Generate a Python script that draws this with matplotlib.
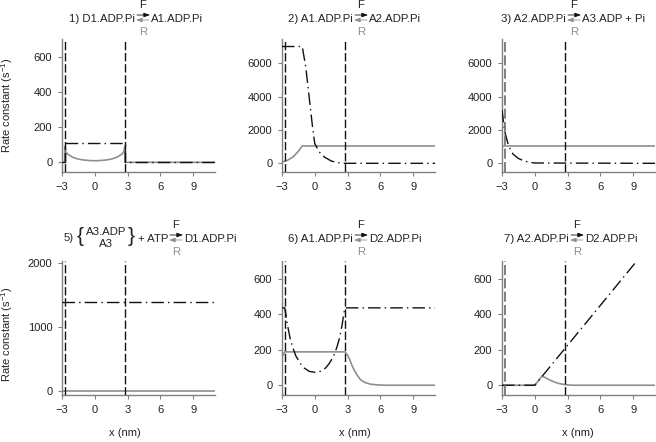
import matplotlib.pyplot as plt
from matplotlib.patches import FancyArrowPatch

plt.rcParams['font.family'] = ['Liberation Sans', 'DejaVu Sans']
plt.rcParams['font.size'] = 8
plt.rcParams['mathtext.default'] = 'regular'

W, H = 656, 442
EDGE = 2.75  # binding region bounds (nm)

X_TICKS = [-3, 0, 3, 6, 9]

# 1) D1.ADP.Pi <-> A1.ADP.Pi
p1_f_x = [-3, -2.75, -2.75, 2.75, 2.75, 11]
p1_f_y = [0, 0, 110, 110, 0, 0]
p1_r_x = [-3, -2.75, -2.75, -2.65, -2.5, -2.0, -1.5, -1.0, -0.5, 0, 0.5, 1.0, 1.5, 2.0, 2.5, 2.65, 2.75, 2.75, 11]
p1_r_y = [0, 0, 90, 60, 47, 28, 18, 13, 10, 9, 10, 13, 18, 28, 47, 60, 90, 0, 0]

# 2) A1.ADP.Pi <-> A2.ADP.Pi
p2_f_x = [-3, -1.15, -0.83, -0.52, -0.21, 0, 0.41, 0.87, 1.5, 2.1, 2.75, 11]
p2_f_y = [7000, 7000, 5800, 4000, 2200, 1180, 680, 380, 140, 40, 0, 0]
p2_r_x = [-3, -2.5, -2.0, -1.5, -1.15, 11]
p2_r_y = [70, 180, 380, 720, 1040, 1040]

# 3) A2.ADP.Pi <-> A3.ADP + Pi
p3_f_x = [-3, -2.75, -2.4, -2.0, -1.5, -1.0, -0.5, 0, 11]
p3_f_y = [3200, 1900, 1050, 560, 290, 150, 60, 20, 0]
p3_r_x = [-3, 11]
p3_r_y = [1040, 1040]

# 5) {A3.ADP, A3} + ATP <-> D1.ADP.Pi
p5_f_x = [-3, 11]
p5_f_y = [1390, 1390]
p5_r_x = [-3, 11]
p5_r_y = [0, 0]

# 6) A1.ADP.Pi <-> D2.ADP.Pi
p6_f_x = [-3, -2.75, -2.65, -2.5, -2.26, -2.0, -1.73, -1.34, -1.0, -0.5, 0,
          0.5, 1.0, 1.34, 1.73, 2.0, 2.26, 2.5, 2.65, 2.75, 11]
p6_f_y = [436, 436, 400, 340, 265, 210, 165, 124, 98, 78, 73,
          78, 98, 124, 165, 210, 265, 340, 400, 436, 436]
p6_r_x = [-3, -2.75, 2.75, 3.0, 3.2, 3.4, 3.6, 3.9, 4.2, 4.6, 5.1, 5.7, 6.5, 11]
p6_r_y = [160, 188, 188, 170, 143, 112, 86, 55, 30, 15, 6, 2, 0, 0]

# 7) A2.ADP.Pi <-> D2.ADP.Pi
p7_f_x = [-3, 0, 11]
p7_f_y = [0, 0, 825]
p7_r_x = [-3, 0, 0.2, 0.4, 0.66, 0.9, 1.2, 1.5, 1.8, 2.2, 2.6, 3.0, 3.5, 11]
p7_r_y = [0, 0, 15, 32, 51, 45, 35, 26, 18, 10, 5, 2, 0, 0]

panels = [
    dict(f=(p1_f_x, p1_f_y), r=(p1_r_x, p1_r_y), ylim=(-55, 700), yticks=[0, 200, 400, 600],
         left='1) D1.ADP.Pi', right='A1.ADP.Pi', cx=143, grey_edge=False),
    dict(f=(p2_f_x, p2_f_y), r=(p2_r_x, p2_r_y), ylim=(-520, 7450), yticks=[0, 2000, 4000, 6000],
         left='2) A1.ADP.Pi', right='A2.ADP.Pi', cx=361, grey_edge=False),
    dict(f=(p3_f_x, p3_f_y), r=(p3_r_x, p3_r_y), ylim=(-520, 7450), yticks=[0, 2000, 4000, 6000],
         left='3) A2.ADP.Pi', right='A3.ADP + Pi', cx=574, grey_edge=True),
    dict(f=(p5_f_x, p5_f_y), r=(p5_r_x, p5_r_y), ylim=(-65, 2030), yticks=[0, 1000, 2000],
         left='+ ATP', right='D1.ADP.Pi', cx=176, grey_edge=False),
    dict(f=(p6_f_x, p6_f_y), r=(p6_r_x, p6_r_y), ylim=(-55, 700), yticks=[0, 200, 400, 600],
         left='6) A1.ADP.Pi', right='D2.ADP.Pi', cx=361, grey_edge=False),
    dict(f=(p7_f_x, p7_f_y), r=(p7_r_x, p7_r_y), ylim=(-55, 700), yticks=[0, 200, 400, 600],
         left='7) A2.ADP.Pi', right='D2.ADP.Pi', cx=577, grey_edge=True),
]

col_left = [62, 282, 502]
row_top = [39, 261]
row_bottom = [172, 395]
ax_w = 153
xlabel_x = [0.41, 0.477, 0.497]

F_COLOR = '#111111'
R_COLOR = '#8f8f8f'
SPINE = '#808080'
TEXT = '#222222'
TITLE_SIZE = 8.2


def fig_xy(x, y):
    return x / W, 1 - y / H


def reaction_label(fig, cx, cy, left, right):
    fig.text(*fig_xy(cx - 8, cy), left, ha='right', va='center', color=TEXT, fontsize=TITLE_SIZE)
    fig.text(*fig_xy(cx + 8, cy), right, ha='left', va='center', color=TEXT, fontsize=TITLE_SIZE)
    fig.text(*fig_xy(cx, cy - 14), 'F', ha='center', va='center', color=TEXT, fontsize=TITLE_SIZE)
    fig.text(*fig_xy(cx, cy + 13), 'R', ha='center', va='center', color=R_COLOR, fontsize=TITLE_SIZE)
    for y0, x0, x1, col in [(cy - 4, cx - 6, cx + 7, F_COLOR), (cy + 1, cx + 6, cx - 7, R_COLOR)]:
        fig.add_artist(FancyArrowPatch(
            fig_xy(x0, y0), fig_xy(x1, y0), transform=fig.transFigure,
            arrowstyle='-|>,head_length=0.6,head_width=0.22', mutation_scale=6,
            shrinkA=0, shrinkB=0, lw=0.6, color=col))


fig = plt.figure(figsize=(W / 100, H / 100), dpi=100)

for i, p in enumerate(panels):
    row, col = divmod(i, 3)
    l = col_left[col] / W
    b = 1 - row_bottom[row] / H
    h = (row_bottom[row] - row_top[row]) / H
    ax = fig.add_axes([l, b, ax_w / W, h])

    ax.plot(*p['r'], color=R_COLOR, lw=1.2, zorder=2)
    ax.plot(*p['f'], color=F_COLOR, lw=1.0, dashes=(9, 3, 1, 3), zorder=3)
    edge_col = '#6a6a6a' if p['grey_edge'] else F_COLOR
    ax.axvline(-EDGE, color=edge_col, lw=1.2 if p['grey_edge'] else 1.0, dashes=(6, 2), zorder=4)
    ax.axvline(EDGE, color=F_COLOR, lw=1.0, dashes=(6, 2), zorder=4)

    ax.set_xlim(-3, 11)
    ax.set_ylim(*p['ylim'])
    ax.set_xticks(X_TICKS)
    ax.set_yticks(p['yticks'])
    for s in ['top', 'right']:
        ax.spines[s].set_visible(False)
    for s in ['left', 'bottom']:
        ax.spines[s].set_color(SPINE)
        ax.spines[s].set_linewidth(1.0)
    ax.tick_params(colors=SPINE, labelcolor=TEXT, length=3, width=0.8, labelsize=8, pad=4)

    if col == 0:
        ax.set_ylabel('Rate constant (s$^{-1}$)', fontsize=8, color=TEXT)
        ax.yaxis.set_label_coords(-0.305, 0.5 if row == 0 else 0.45)
    if row == 1:
        ax.set_xlabel('x (nm)', fontsize=8, color=TEXT)
        ax.xaxis.set_label_coords(xlabel_x[col], -0.25)

    cy = 19 if row == 0 else 239
    reaction_label(fig, p['cx'], cy, p['left'], p['right'])

# extra pieces of the reaction 5 label
fig.text(*fig_xy(69, 238), '5)', ha='center', va='center', color=TEXT, fontsize=TITLE_SIZE)
fig.text(*fig_xy(80, 237), '{', ha='center', va='center', fontsize=15, color=TEXT)
fig.text(*fig_xy(131, 237), '}', ha='center', va='center', fontsize=15, color=TEXT)
fig.text(*fig_xy(106, 232), 'A3.ADP', ha='center', va='center', color=TEXT, fontsize=TITLE_SIZE)
fig.text(*fig_xy(106, 244), 'A3', ha='center', va='center', color=TEXT, fontsize=TITLE_SIZE)

fig.savefig('out.png', dpi=100)
